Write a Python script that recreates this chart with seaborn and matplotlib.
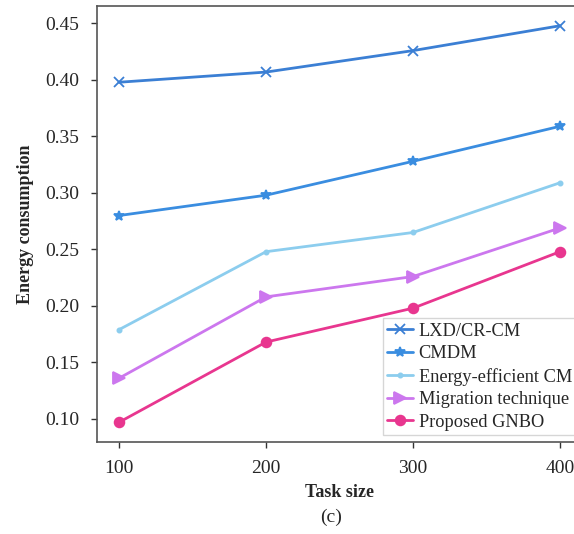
import matplotlib
matplotlib.use("Agg")
import matplotlib.pyplot as plt
import seaborn as sns
import pandas as pd

task_size = [100, 200, 300, 400]
lxd = [0.398, 0.407, 0.426, 0.448]
cmdm = [0.280, 0.298, 0.328, 0.359]
energy_eff = [0.179, 0.248, 0.265, 0.309]
migration = [0.136, 0.208, 0.226, 0.269]
gnbo = [0.097, 0.168, 0.198, 0.248]

series_names = ["LXD/CR-CM", "CMDM", "Energy-efficient CM", "Migration technique", "Proposed GNBO"]
series_values = [lxd, cmdm, energy_eff, migration, gnbo]
colors = ["#3b7fd4", "#3a8de0", "#8ccdee", "#cc77ee", "#e8368f"]
markers = ["x", "*", ".", ">", "o"]
msizes = [7, 7, 6, 8, 7]

sns.set_style("white")
plt.rcParams["font.family"] = ["Liberation Serif", "DejaVu Serif"]

fig = plt.figure(figsize=(5.74, 5.34), dpi=100)
ax = fig.add_axes([0.169, 0.172, 0.845, 0.817])

for name, vals, c, m, ms in zip(series_names, series_values, colors, markers, msizes):
    df = pd.DataFrame({"Task size": task_size, "Energy consumption": vals})
    sns.lineplot(data=df, x="Task size", y="Energy consumption", ax=ax, color=c,
                 marker=m, markersize=ms, linewidth=2, label=name,
                 markeredgecolor=c, markeredgewidth=1.3)

ax.set_xlim(85, 415)
ax.set_ylim(0.0794, 0.4656)
ax.set_xticks(task_size)
yt = [0.10, 0.15, 0.20, 0.25, 0.30, 0.35, 0.40, 0.45]
ax.set_yticks(yt)
ax.set_yticklabels([f"{v:.2f}" for v in yt])
ax.tick_params(axis="both", labelsize=14, length=4, width=1, color="#333333", direction="out",
               bottom=True, left=True)
ax.tick_params(axis="y", pad=9)
ax.tick_params(axis="x", pad=9)
for s in ax.spines.values():
    s.set_color("#555555")
    s.set_linewidth(1.2)

ax.set_xlabel("Task size", fontsize=13, fontweight="bold", labelpad=5)
ax.set_ylabel("Energy consumption", fontsize=13, fontweight="bold", labelpad=8)
fig.text(0.576, 0.032, "(c)", fontsize=14, ha="center", va="center")

leg = ax.legend(loc="lower right", bbox_to_anchor=(1.0, 0.003), fontsize=13.2, frameon=True,
                handlelength=1.4, handletextpad=0.3, labelspacing=0.3, borderpad=0.25,
                borderaxespad=0.3, fancybox=False)
leg.get_frame().set_edgecolor("#cccccc")

fig.savefig("out.png", dpi=100)
